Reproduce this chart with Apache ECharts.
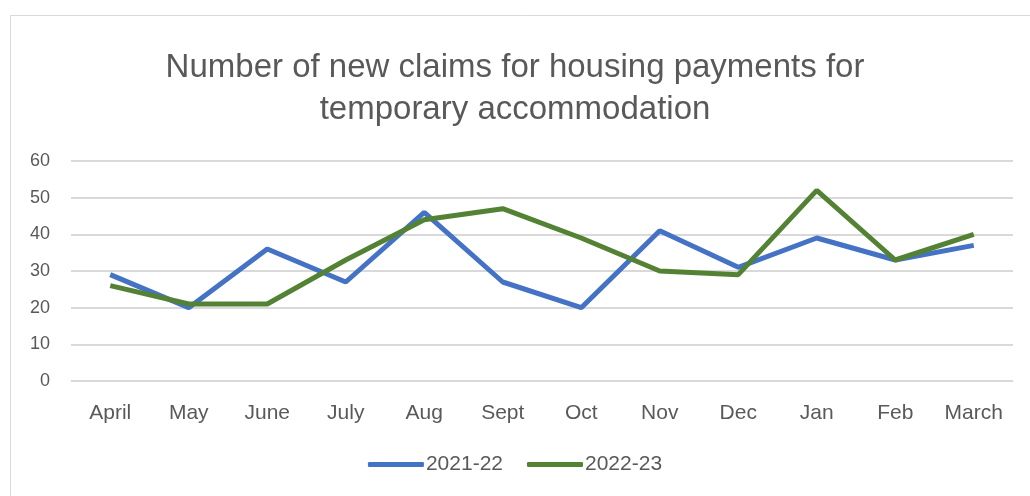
<!DOCTYPE html>
<html><head><meta charset="utf-8">
<script src="https://cdn.jsdelivr.net/npm/echarts@6/dist/echarts.min.js"></script>
<style>html,body{margin:0;padding:0;background:#fff}#c{width:1030px;height:496px}</style>
</head><body><div id="c"></div>
<script>
const categories = ['April','May','June','July','Aug','Sept','Oct','Nov','Dec','Jan','Feb','March'];
const series2021 = [29,20,36,27,46,27,20,41,31,39,33,37];
const series2022 = [26,21,21,33,44,47,39,30,29,52,33,40];
const yTicks = [0,10,20,30,40,50,60];

const chart = echarts.init(document.getElementById('c'));
const font = '"Liberation Sans", "Open Sans", sans-serif';
chart.setOption({
  animation:false,
  backgroundColor:'#fff',
  graphic:[{type:'rect',shape:{x:10.5,y:15.5,width:1030,height:500},style:{fill:'none',stroke:'#d9d9d9',lineWidth:1}}],
  title:{text:'Number of new claims for housing payments for\ntemporary accommodation',left:'center',top:42,
    textStyle:{fontFamily:font,fontSize:33,fontWeight:'normal',color:'#595959',lineHeight:42}},
  grid:{left:71,right:17,top:161,bottom:115},
  legend:{bottom:16,left:'center',itemWidth:56,itemHeight:5,itemGap:24,icon:'roundRect',
    textStyle:{fontFamily:font,fontSize:21,color:'#595959',padding:[0,0,0,-3]}},
  xAxis:{type:'category',data:categories,boundaryGap:true,
    axisLine:{show:true,lineStyle:{color:'#d9d9d9',width:1}},axisTick:{show:false},
    axisLabel:{fontFamily:font,fontSize:21,color:'#595959',margin:22}},
  yAxis:{type:'value',min:yTicks[0],max:yTicks[yTicks.length-1],interval:10,
    axisLine:{show:false},axisTick:{show:false},
    splitLine:{lineStyle:{color:'#d9d9d9',width:2}},
    axisLabel:{fontFamily:font,fontSize:18,color:'#595959',margin:21}},
  series:[
    {name:'2021-22',type:'line',data:series2021,symbol:'none',lineStyle:{color:'#4472C4',width:5},itemStyle:{color:'#4472C4'}},
    {name:'2022-23',type:'line',data:series2022,symbol:'none',lineStyle:{color:'#548235',width:5},itemStyle:{color:'#548235'}}
  ]
});
</script></body></html>
